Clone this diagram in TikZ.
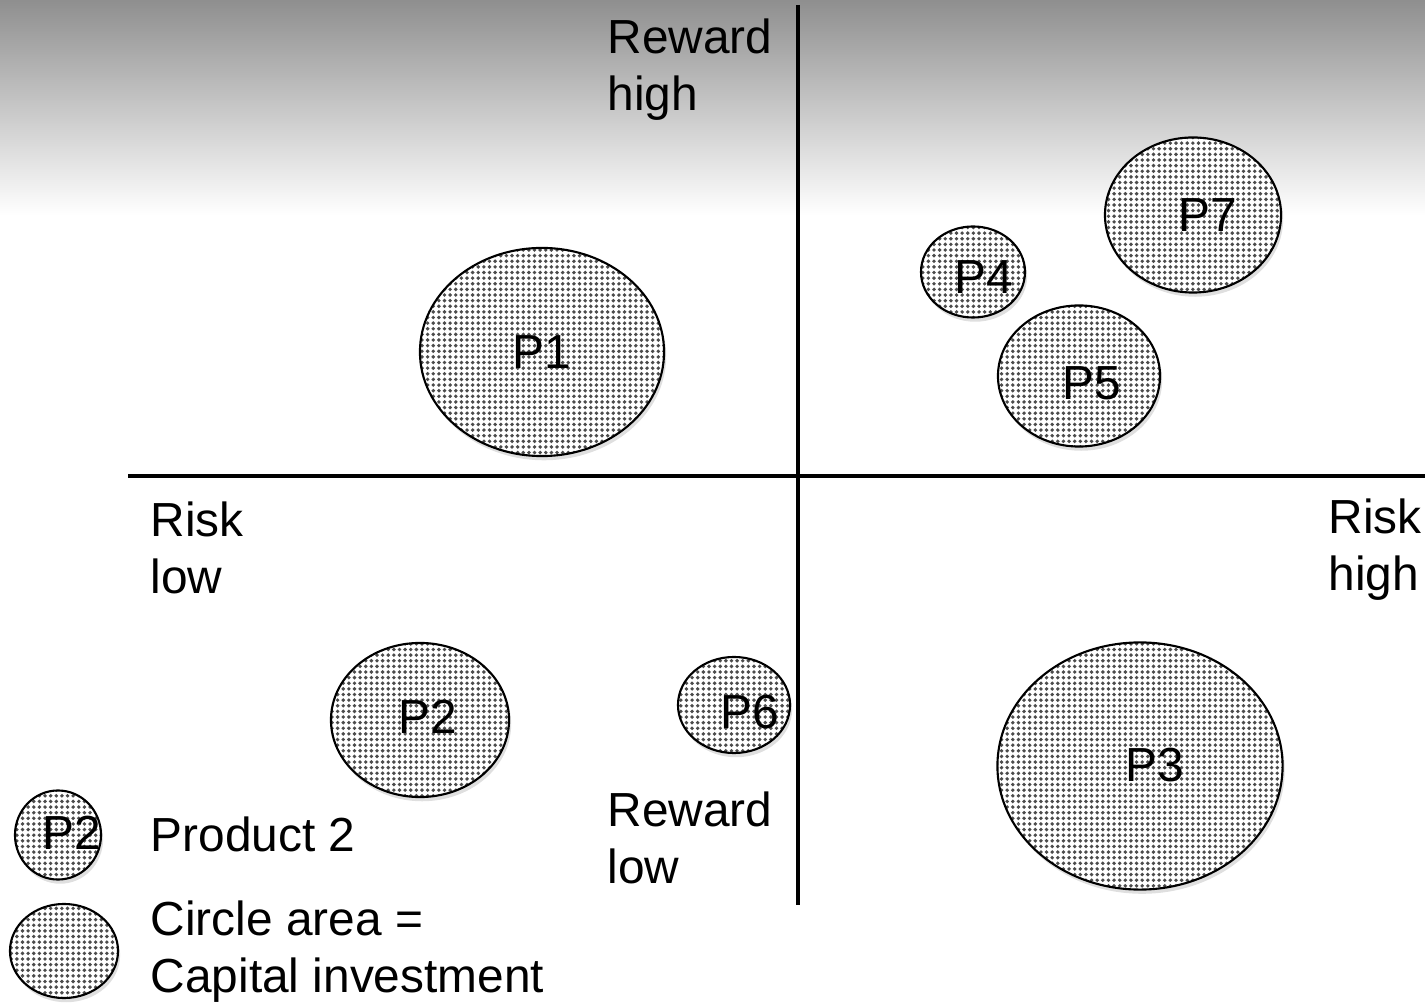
\documentclass[tikz,border=0pt]{standalone}
\usepackage{fontspec}
\setmainfont{Liberation Sans}
\usetikzlibrary{shapes.geometric,patterns.meta,shadows}

\newcommand{\chartfont}{\fontsize{13.6pt}{16.2pt}\selectfont}

\tikzset{
  prod/.style={ellipse, draw=black, line width=0.6pt, inner sep=0pt,
    drop shadow={shadow xshift=0.6pt, shadow yshift=-1.2pt, opacity=0.25},
    preaction={fill=white},
    pattern={Dots[distance=1.6pt,radius=0.55pt]}, pattern color=black!70,
    font=\chartfont},
  lbl/.style={anchor=west, align=left, inner sep=0pt, font=\chartfont},
  axis/.style={line width=1.2pt, black},
}

\begin{document}
\begin{tikzpicture}[x=0.01cm, y=-0.01cm]
    \useasboundingbox (0,0) rectangle (1425,1004);
    \shade[top color=black!44, bottom color=white] (0,0) rectangle (1425,215);

    % axes
    \coordinate (left) at (128,476);
    \coordinate (right) at (1425,476);
    \coordinate (top) at (798,5);
    \coordinate (bottom) at (798,905);
    \draw[axis] (left) -- (right);
    \draw[axis] (top) -- (bottom);

    % axis labels
    \node[lbl] (rewardhigh) at (607,70) {Reward\\high};
    \node[lbl] (risklow) at (150,548) {Risk\\low};
    \node[lbl] (riskhigh) at (1328,550) {Risk\\high};
    \node[lbl] (rewardlow) at (607,838) {Reward\\low};

    % products
    \node[prod, minimum width=2.44cm, minimum height=2.08cm] (p1) at (542,352) {};
    \node[font=\chartfont] at (p1.center) {P1};
    \node[prod, minimum width=1.76cm, minimum height=1.55cm] (p7) at (1193,215) {};
    \node[font=\chartfont] at (1208,215) {P7};
    \node[prod, minimum width=1.04cm, minimum height=0.91cm] (p4) at (973,272) {};
    \node[font=\chartfont] at (984,277) {P4};
    \node[prod, minimum width=1.62cm, minimum height=1.41cm] (p5) at (1079,376) {};
    \node[font=\chartfont] at (1092,383) {P5};
    \node[prod, minimum width=1.78cm, minimum height=1.54cm] (p2) at (420,720) {};
    \node[font=\chartfont] at (428,717) {P2};
    \node[prod, minimum width=1.12cm, minimum height=0.96cm] (p6) at (734,705) {};
    \node[font=\chartfont] at (750,712) {P6};
    \node[prod, minimum width=2.85cm, minimum height=2.47cm] (p3) at (1140,766) {};
    \node[font=\chartfont] at (1155,765) {P3};

    % legend
    \node[prod, minimum width=0.86cm, minimum height=0.89cm] (keyp2) at (58,835) {};
    \node[font=\chartfont] at (72,833) {P2};
    \node[lbl] (keytext) at (150,834) {Product 2};
    \node[prod, minimum width=1.08cm, minimum height=0.94cm] (keyarea) at (64,951) {};
    \node[lbl] (areatext) at (150,952) {Circle area =\\Capital investment};
\end{tikzpicture}
\end{document}
